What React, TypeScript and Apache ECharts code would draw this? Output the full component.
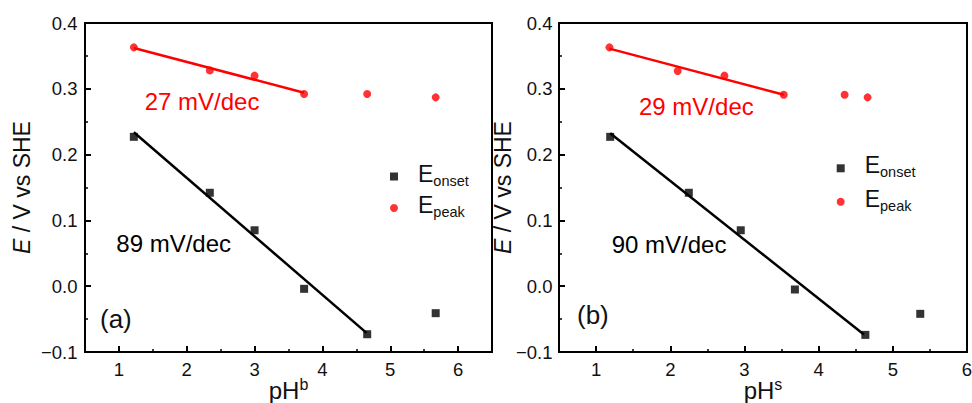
import React, { useEffect, useRef } from 'react';
import * as echarts from 'echarts';

// ---------- data ----------
// (a) bulk pH
const pHbulk = [1.22, 2.34, 3.0, 3.73, 4.66, 5.67];
const eOnsetA = [0.227, 0.142, 0.085, -0.004, -0.073, -0.041];
const ePeakA = [0.363, 0.328, 0.32, 0.292, 0.292, 0.287];
const fitOnsetA = [[1.22, 0.234], [4.65, -0.071]];
const fitPeakA = [[1.22, 0.362], [3.73, 0.294]];

// (b) surface pH
const pHsOnset = [1.19, 2.25, 2.95, 3.68, 4.63, 5.37];
const eOnsetB = [0.227, 0.142, 0.085, -0.005, -0.074, -0.042];
const pHsPeak = [1.18, 2.1, 2.73, 3.53, 4.35, 4.66];
const ePeakB = [0.363, 0.327, 0.32, 0.291, 0.291, 0.287];
const fitOnsetB = [[1.19, 0.2325], [4.61, -0.0735]];
const fitPeakB = [[1.18, 0.361], [3.53, 0.291]];

const xMajorTicks = [1, 2, 3, 4, 5, 6];
const xMinorTicks = [1.5, 2.5, 3.5, 4.5, 5.5];

const slopeLabels = ['27 mV/dec', '89 mV/dec', '29 mV/dec', '90 mV/dec'];
const panelLabels = ['(a)', '(b)'];

const FONT = '"Liberation Sans", Arial, Helvetica, sans-serif';
const RED = '#ff0000';
const BLACK = '#000000';
const TXT = '#111111';

const zip = (xs: number[], ys: number[]) => xs.map((x, i) => [x, ys[i]]);

function fmtY(v: number) {
  const s = Math.abs(v).toFixed(1);
  return v < -1e-9 ? '\u2212' + s : s;
}

function mainX(g: number, max: number, sup: string, gap: number) {
  return {
    type: 'value',
    gridIndex: g,
    min: 0.5,
    max,
    position: 'bottom',
    axisLine: { show: true, onZero: false, lineStyle: { color: BLACK, width: 2 } },
    axisTick: { show: true, inside: true, length: 6, lineStyle: { color: BLACK, width: 2 }, customValues: xMajorTicks },
    axisLabel: { show: true, margin: 10, lineHeight: 14, customValues: xMajorTicks, fontSize: 18.5, fontFamily: FONT, color: TXT },
    splitLine: { show: false },
    name: '{m|pH}{sup|' + sup + '}',
    nameLocation: 'middle',
    nameGap: gap,
    nameMoveOverlap: false,
    nameTextStyle: {
      rich: {
        m: { fontSize: 24, lineHeight: 24, fontFamily: FONT, color: TXT, padding: [2, 0, 0, 0], verticalAlign: 'top' },
        sup: { fontSize: 16, lineHeight: 16, fontFamily: FONT, color: TXT, verticalAlign: 'top' },
      },
    },
  };
}

function minorX(g: number, max: number) {
  return {
    type: 'value',
    gridIndex: g,
    min: 0.5,
    max,
    position: 'bottom',
    axisLine: { show: false, onZero: false },
    axisTick: { show: true, inside: true, length: 3, lineStyle: { color: BLACK, width: 1.5 }, customValues: xMinorTicks },
    axisLabel: { show: false },
    splitLine: { show: false },
  };
}

function yAx(g: number, gap: number, margin: number) {
  return {
    type: 'value',
    gridIndex: g,
    min: -0.1,
    max: 0.4,
    interval: 0.1,
    axisLine: { show: true, onZero: false, lineStyle: { color: BLACK, width: 2 } },
    axisTick: { show: true, inside: true, length: 6, lineStyle: { color: BLACK, width: 2 } },
    minorTick: { show: true, splitNumber: 2, length: 3, lineStyle: { color: BLACK, width: 1.5 } },
    axisLabel: { formatter: fmtY, fontSize: 18.5, margin, fontFamily: FONT, color: TXT },
    splitLine: { show: false },
    minorSplitLine: { show: false },
    name: '{it|E}{n| / V vs SHE}',
    nameLocation: 'middle',
    nameGap: gap,
    nameMoveOverlap: false,
    nameTextStyle: {
      rich: {
        it: { fontSize: 23, lineHeight: 23, fontStyle: 'italic', fontFamily: FONT, color: TXT },
        n: { fontSize: 23, lineHeight: 23, fontFamily: FONT, color: TXT },
      },
    },
  };
}

function legendRich() {
  return {
    e: { fontSize: 23, lineHeight: 23, fontFamily: FONT, color: TXT, padding: [3.5, 0, 3, 15], verticalAlign: 'bottom' },
    s: { fontSize: 14.5, lineHeight: 14.5, fontFamily: FONT, color: TXT, verticalAlign: 'bottom' },
  };
}

function legendFmt(n: string) {
  return n === 'Eonset' ? '{e|E}{s|onset}' : '{e|E}{s|peak}';
}

function mkLegend(left: number, top: number, gap: number) {
  return {
    data: [
      { name: 'Eonset', icon: 'rect' },
      { name: 'Epeak', icon: 'circle' },
    ],
    orient: 'vertical',
    left,
    top,
    padding: 0,
    itemWidth: 8,
    itemHeight: 8,
    itemGap: gap,
    selectedMode: false,
    formatter: legendFmt,
    textStyle: { rich: legendRich() },
  };
}

function textEl(text: string, x: number, y: number, size: number, color: string) {
  return {
    type: 'text',
    x,
    y,
    silent: true,
    style: { text, fontSize: size, fontFamily: FONT, fill: color, align: 'left', verticalAlign: 'middle' },
  };
}

function fitLine(xi: number, yi: number, data: number[][], color: string) {
  return {
    type: 'line',
    xAxisIndex: xi,
    yAxisIndex: yi,
    data,
    symbol: 'none',
    silent: true,
    z: 2,
    lineStyle: { color, width: 2.5 },
  };
}

function scatter(name: string, xi: number, yi: number, data: number[][], symbol: string, color: string) {
  return {
    type: 'scatter',
    name,
    xAxisIndex: xi,
    yAxisIndex: yi,
    data,
    symbol,
    symbolSize: 8,
    z: 3,
    itemStyle: { color },
  };
}

export default function App() {
  const ref = useRef<HTMLDivElement>(null);
  useEffect(() => {
    if (!ref.current) return;
    const chart = echarts.init(ref.current, null, { renderer: 'svg' });
    chart.setOption({
      animation: false,
      backgroundColor: '#ffffff',
      grid: [
        { left: 85, top: 23, width: 407, height: 329, show: true, borderColor: BLACK, borderWidth: 2, backgroundColor: 'transparent', containLabel: false, outerBoundsMode: 'none' },
        { left: 559, top: 23, width: 408, height: 329, show: true, borderColor: BLACK, borderWidth: 2, backgroundColor: 'transparent', containLabel: false, outerBoundsMode: 'none' },
      ],
      xAxis: [mainX(0, 6.5, 'b', 24), minorX(0, 6.5), mainX(1, 6, 's', 24), minorX(1, 6)],
      yAxis: [yAx(0, 51.5, 7.5), yAx(1, 45, 6.5)],
      legend: [mkLegend(390, 158.5, 2), mkLegend(836.7, 150.3, 4)],
      series: [
        fitLine(0, 0, fitPeakA, RED),
        fitLine(0, 0, fitOnsetA, BLACK),
        scatter('Eonset', 0, 0, zip(pHbulk, eOnsetA), 'rect', BLACK),
        scatter('Epeak', 0, 0, zip(pHbulk, ePeakA), 'circle', RED),
        fitLine(2, 1, fitPeakB, RED),
        fitLine(2, 1, fitOnsetB, BLACK),
        scatter('Eonset', 2, 1, zip(pHsOnset, eOnsetB), 'rect', BLACK),
        scatter('Epeak', 2, 1, zip(pHsPeak, ePeakB), 'circle', RED),
      ],
      graphic: [
        textEl(slopeLabels[0], 144.7, 101, 24, RED),
        textEl(slopeLabels[1], 116.3, 243, 24, BLACK),
        textEl(slopeLabels[2], 639, 106.5, 24, RED),
        textEl(slopeLabels[3], 611.7, 244, 24, BLACK),
        textEl(panelLabels[0], 100, 319, 26, TXT),
        textEl(panelLabels[1], 577, 315, 26, TXT),
      ],
    });
    return () => chart.dispose();
  }, []);
  return <div ref={ref} style={{ position: 'fixed', left: 0, top: 0, width: 972, height: 403 }} />;
}
